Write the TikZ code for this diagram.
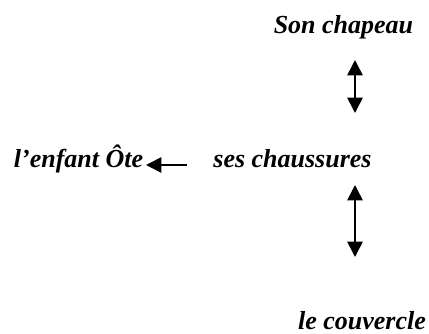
\documentclass[tikz,border=0pt]{standalone}
\usepackage{fontspec}
\setmainfont{Liberation Serif}
\usetikzlibrary{arrows.meta, positioning}
\tikzset{
  every picture/.style={line width=1.6pt},
  word/.style={font=\fontsize{26}{30}\selectfont\bfseries\itshape, inner sep=0pt},
  arrow/.style={-{Triangle[length=5.4mm, width=5.4mm]}},
  twoway/.style={{Triangle[length=5.4mm, width=5.4mm]}-{Triangle[length=5.4mm, width=5.4mm]}},
}

\begin{document}
\begin{tikzpicture}[x=1pt, y=-1pt]
  \useasboundingbox (0,0) rectangle (429,334);
  \node[word] (hat) at (343.5, 27) {Son chapeau};
  \node[word] (shoes) at (292.5, 159) {ses chaussures};
  \node[word] (child) at (78.5, 159) {l’enfant Ôte};
  \node[word] (lid) at (362, 321) {le couvercle};
  % arrow ends
  \coordinate (up-a) at (355, 60);
  \coordinate (up-b) at (355, 113);
  \coordinate (lo-a) at (355, 185);
  \coordinate (lo-b) at (355, 257);
  \coordinate (le-a) at (187, 165);
  \coordinate (le-b) at (146, 165);
  \draw[twoway] (up-a) -- (up-b);
  \draw[twoway] (lo-a) -- (lo-b);
  \draw[arrow] (le-a) -- (le-b);
\end{tikzpicture}
\end{document}
